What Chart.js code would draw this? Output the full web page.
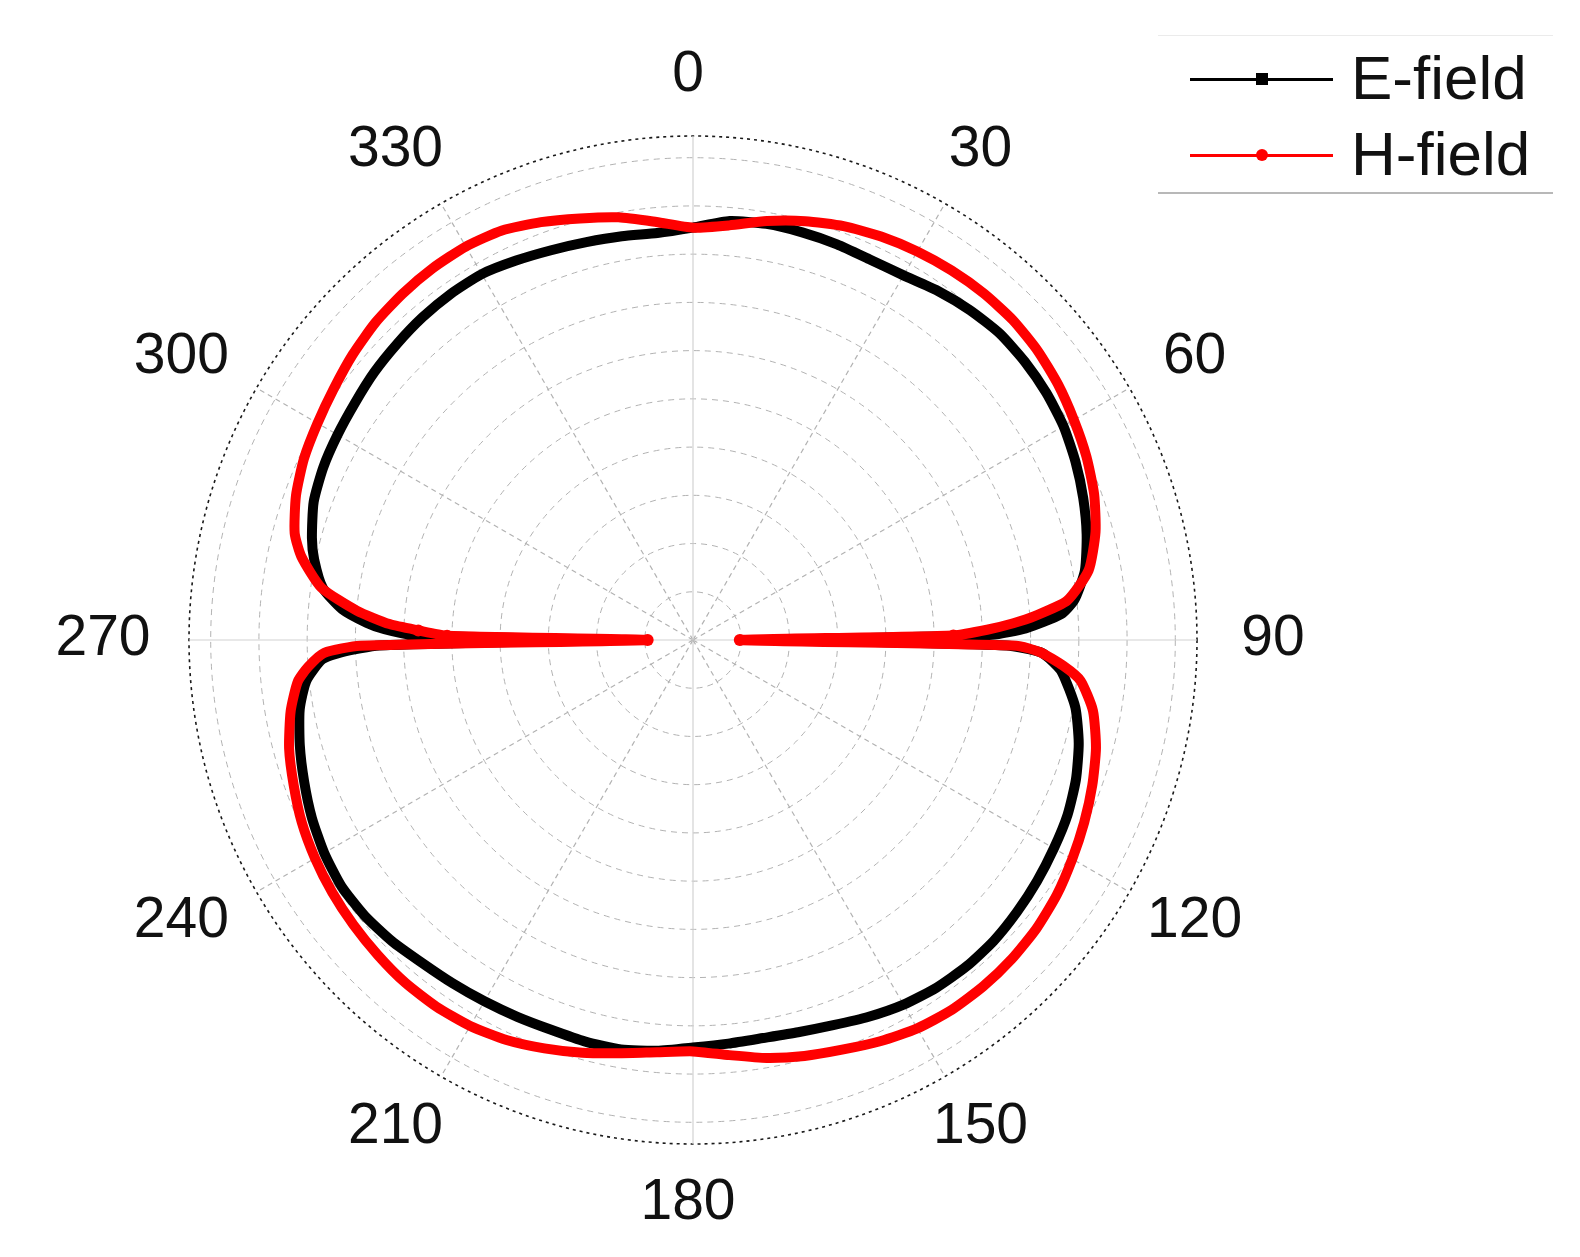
<!DOCTYPE html>
<html>
<head>
<meta charset="utf-8">
<title>E-field / H-field radiation pattern</title>
<script src="https://cdn.jsdelivr.net/npm/chart.js@4.4.1/dist/chart.umd.min.js"></script>
<style>
  html, body { margin: 0; padding: 0; background: #fff; overflow: hidden; width: 1580px; height: 1257px; }
  #wrap { position: relative; width: 1580px; height: 1257px; overflow: hidden; background: #fff; }
  #chart { position: absolute; left: 0; top: 0; display: block; }
  .legend {
    position: absolute; left: 1158px; top: 35px; width: 395px; height: 156px;
    border-top: 1px solid #ebebeb; border-bottom: 2px solid #b8b8b8;
    font-family: "Liberation Sans", Arial, sans-serif; color: #111;
  }
  .item { position: absolute; left: 0; width: 100%; height: 0; }
  .item .line { position: absolute; left: 32px; width: 143px; height: 3px; top: -1px; }
  .item .mark { position: absolute; left: 98px; top: -6px; width: 12px; height: 12px; }
  .item .mark.circle { border-radius: 50%; }
  .item .txt { position: absolute; left: 193px; top: -37px; font-size: 62px; line-height: 72px; white-space: nowrap; }
</style>
</head>
<body>
<div id="wrap">
  <canvas id="chart" width="1580" height="1257"></canvas>
  <div class="legend" id="legend"></div>
</div>
<script>
  // Series
  const seriesNames = ["E-field", "H-field"];
  const seriesColors = ["#000000", "#ff0000"];
  const seriesMarkers = ["rect", "circle"];

  // Angle axis: categories every degree, labels every 30 degrees
  const angleTickLabels = ["0", "30", "60", "90", "120", "150", "180", "210", "240", "270", "300", "330"];
  // Radial grid rings (arbitrary units, outer ring = axis)
  const ringValues = [0, 1, 2, 3, 4, 5, 6, 7, 8, 9, 10, 10.45];

  // E-field readings (angle in degrees, radius in grid units)
  const eAngles = [0, 5, 10, 15, 20, 25, 30, 35, 40, 45, 50, 55, 60, 65, 70, 75, 80, 84, 86, 88, 89,
    90, 91, 92, 93, 95, 100, 105, 110, 115, 120, 125, 130, 135, 140, 145, 150, 155, 160, 165, 170, 175,
    180, 185, 190, 195, 200, 205, 210, 215, 220, 225, 230, 235, 240, 245, 250, 255, 260, 264, 267, 268, 269,
    270, 271, 272, 273, 275, 278, 282, 285, 290, 295, 300, 305, 310, 315, 320, 325, 330, 335, 340, 345, 350, 355];
  const eValues = [8.55, 8.72, 8.76, 8.75, 8.73, 8.70, 8.73, 8.84, 8.93, 8.99, 8.98, 8.94, 8.87, 8.75, 8.61, 8.45, 8.25, 7.95, 7.65, 6.9, 6.2,
    2.25, 6.5, 7.2, 7.4, 7.68, 8.05, 8.28, 8.45, 8.57, 8.64, 8.71, 8.77, 8.82, 8.83, 8.80, 8.73, 8.62, 8.50, 8.42, 8.38, 8.40,
    8.45, 8.55, 8.62, 8.62, 8.60, 8.62, 8.65, 8.69, 8.74, 8.83, 8.89, 8.90, 8.83, 8.72, 8.58, 8.44, 8.28, 8.06, 7.7, 7.3, 6.5,
    2.25, 5.8, 6.4, 6.77, 7.3, 7.75, 8.03, 8.18, 8.37, 8.46, 8.51, 8.56, 8.63, 8.68, 8.73, 8.76, 8.76, 8.68, 8.60, 8.54, 8.50, 8.47];

  // H-field readings
  const hAngles = [0, 5, 10, 15, 20, 25, 30, 35, 40, 45, 50, 55, 60, 65, 70, 75, 80, 84, 86, 87, 88, 89,
    90, 91, 92, 94, 96, 100, 105, 110, 115, 120, 125, 130, 135, 140, 145, 150, 155, 160, 165, 170, 175,
    180, 185, 190, 195, 200, 205, 210, 215, 220, 225, 230, 235, 240, 245, 250, 255, 260, 264, 266, 268, 269,
    270, 271, 272, 273, 275, 278, 282, 285, 290, 295, 300, 305, 310, 315, 320, 325, 330, 335, 340, 345, 350, 355];
  const hValues = [8.55, 8.63, 8.82, 8.99, 9.13, 9.23, 9.30, 9.35, 9.38, 9.38, 9.33, 9.24, 9.12, 9.00, 8.85, 8.64, 8.33, 7.80, 7.10, 6.65, 6.1, 5.4,
    0.97, 6.7, 7.2, 7.7, 8.08, 8.42, 8.65, 8.81, 8.95, 9.08, 9.21, 9.30, 9.35, 9.37, 9.36, 9.30, 9.18, 9.04, 8.93, 8.80, 8.64,
    8.53, 8.58, 8.70, 8.86, 9.01, 9.15, 9.24, 9.28, 9.28, 9.24, 9.19, 9.13, 9.05, 8.95, 8.81, 8.67, 8.47, 8.24, 8.00, 7.65, 6.9,
    0.94, 5.1, 5.7, 6.3, 7.0, 7.78, 8.30, 8.55, 8.76, 8.90, 8.99, 9.09, 9.21, 9.31, 9.37, 9.41, 9.42, 9.37, 9.22, 9.05, 8.90, 8.70];

  const angleCategories = [];
  for (let a = 0; a < 360; a++) angleCategories.push(a);

  // place readings on the 1-degree category axis, gaps left as null
  function toSeries(angles, values) {
    const out = angleCategories.map(() => null);
    angles.forEach((a, i) => { out[a] = values[i]; });
    return out;
  }

  const outerRing = ringValues.length - 1;
  const nullLevel = 6;   // below this the trace runs along the null line

  // angle labels around the outer ring (slightly elliptic, like the original)
  const labelGapX = 81, labelGapY = 60, labelShiftX = -5, labelShiftY = -1;
  const angleLabelPlugin = {
    id: "angleLabels",
    afterDraw(chart) {
      const r = chart.scales.r;
      const ctx = chart.ctx;
      ctx.save();
      ctx.font = '57px "Liberation Sans", Arial, sans-serif';
      ctx.fillStyle = "#111";
      ctx.textAlign = "center";
      ctx.textBaseline = "middle";
      angleTickLabels.forEach(txt => {
        const u = r.getPointPosition(Number(txt), 1);
        const dx = u.x - r.xCenter, dy = u.y - r.yCenter;
        ctx.fillText(txt,
          r.xCenter + labelShiftX + dx * (r.drawingArea + labelGapX),
          r.yCenter + labelShiftY + dy * (r.drawingArea + labelGapY));
      });
      ctx.restore();
    }
  };

  function dataset(i, angles, values, order) {
    const data = toSeries(angles, values);
    const isRect = seriesMarkers[i] === "rect";
    return {
      label: seriesNames[i],
      data,
      borderColor: seriesColors[i],
      backgroundColor: seriesColors[i],
      pointBackgroundColor: seriesColors[i],
      pointBorderColor: seriesColors[i],
      pointBorderWidth: 0,
      pointStyle: seriesMarkers[i],
      pointRadius: c => (c.raw !== null && c.raw < nullLevel) ? (isRect ? 7.5 : 6) : 3.5,
      borderWidth: 10,
      segment: {
        borderWidth: c => (data[c.p0DataIndex] < nullLevel || data[c.p1DataIndex] < nullLevel) ? 5 : undefined
      },
      borderJoinStyle: "round",
      borderCapStyle: "round",
      fill: false,
      spanGaps: true,
      tension: 0.2,
      order
    };
  }

  new Chart(document.getElementById("chart"), {
    type: "radar",
    data: {
      labels: angleCategories,
      datasets: [
        dataset(0, eAngles, eValues, 2),
        dataset(1, hAngles, hValues, 1)
      ]
    },
    options: {
      responsive: false,
      animation: false,
      devicePixelRatio: 1,
      layout: { padding: { left: 189, top: 136, right: 383, bottom: 113 } },
      plugins: {
        legend: { display: false },
        tooltip: { enabled: false }
      },
      scales: {
        r: {
          min: 0,
          max: ringValues[outerRing],
          startAngle: 0,
          afterBuildTicks: s => { s.ticks = ringValues.map(v => ({ value: v })); },
          ticks: { display: false },
          pointLabels: { display: false },
          grid: {
            circular: true,
            color: c => c.index === outerRing ? "#1a1a1a" : "#b2b2b2",
            lineWidth: c => c.index === outerRing ? 1.6 : 1
          },
          border: {
            dash: c => c.index === outerRing ? [3, 4] : [6, 5]
          },
          angleLines: {
            color: c => c.index % 90 === 0 ? "#d2d2d2" : "#b2b2b2",
            lineWidth: c => c.index % 30 === 0 ? 1.2 : 0,
            borderDash: c => c.index % 90 === 0 ? [] : [5, 4]
          }
        }
      }
    },
    plugins: [angleLabelPlugin]
  });

  // legend
  const legend = document.getElementById("legend");
  const rowTops = [43, 119];
  seriesNames.forEach((name, i) => {
    const item = document.createElement("div");
    item.className = "item";
    item.style.top = rowTops[i] + "px";
    item.innerHTML =
      '<span class="line" style="background:' + seriesColors[i] + '"></span>' +
      '<span class="mark' + (seriesMarkers[i] === "circle" ? " circle" : "") + '" style="background:' + seriesColors[i] + '"></span>' +
      '<span class="txt">' + name + '</span>';
    legend.appendChild(item);
  });
</script>
</body>
</html>
